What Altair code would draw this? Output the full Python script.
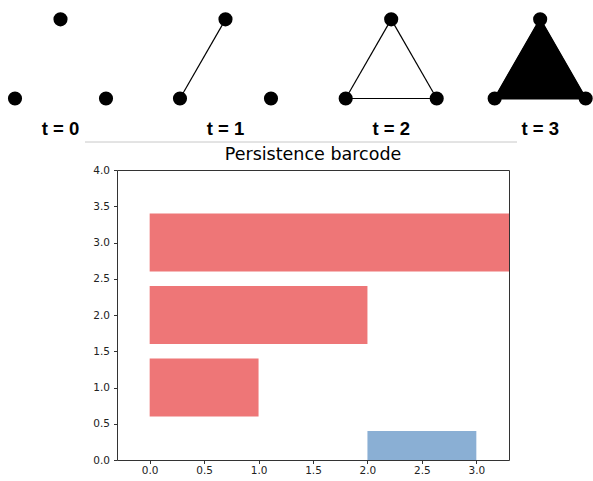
import math

import altair as alt
import pandas as pd

# --- filtration snapshots (triangle side length = 1 unit) --------------------
steps = [0, 1, 2, 3]
step_labels = ["t = 0", "t = 1", "t = 2", "t = 3"]
step_offsets = [0.0, 1.813, 3.634, 5.271]

vertex_x = [0.0, 1.0, 0.5]
vertex_y = [0.0, 0.0, 0.87]

# edges present at each step, as vertex index pairs
edge_step = [1, 2, 2, 2, 3, 3, 3]
edge_start = [0, 0, 1, 2, 0, 1, 2]
edge_end = [2, 1, 2, 0, 1, 2, 0]

# the 2-simplex (filled triangle) enters at t = 3
face_steps = [3]

# --- persistence barcode -------------------------------------------------------
bar_dim = ["H0", "H0", "H0", "H1"]
bar_row = [1, 2, 3, 0]
bar_birth = [0.0, 0.0, 0.0, 2.0]
bar_death = [1.0, 2.0, math.inf, 3.0]
bar_half_height = 0.4

x_domain = [-0.3, 3.3]
y_domain = [0.0, 4.0]
x_ticks = [0.0, 0.5, 1.0, 1.5, 2.0, 2.5, 3.0]
y_ticks = [0.0, 0.5, 1.0, 1.5, 2.0, 2.5, 3.0, 3.5, 4.0]

bar_colors = ["#ee7677", "#8aafd4"]

# --- tables -------------------------------------------------------------------
dots = pd.DataFrame(
    [
        {"step": s, "x": off + vx, "y": vy}
        for s, off in zip(steps, step_offsets)
        for vx, vy in zip(vertex_x, vertex_y)
    ]
)

edge_rows = []
for k, (s, a, b) in enumerate(zip(edge_step, edge_start, edge_end)):
    off = step_offsets[s]
    edge_rows.append({"edge": k, "order": 0, "x": off + vertex_x[a], "y": vertex_y[a]})
    edge_rows.append({"edge": k, "order": 1, "x": off + vertex_x[b], "y": vertex_y[b]})
edges = pd.DataFrame(edge_rows)

faces = pd.DataFrame(
    [
        {"face": s, "x": step_offsets[s] + vx, "y": vy, "y0": 0.0}
        for s in face_steps
        for vx, vy in sorted(zip(vertex_x, vertex_y))
    ]
)

labels = pd.DataFrame(
    {"x": [off + 0.5 for off in step_offsets], "y": [-0.33] * 4, "text": step_labels}
)

bars = pd.DataFrame(
    {
        "dim": bar_dim,
        "birth": bar_birth,
        "death": [min(d, x_domain[1]) for d in bar_death],
        "lo": [r - bar_half_height for r in bar_row],
        "hi": [r + bar_half_height for r in bar_row],
    }
)

# --- top strip: the growing simplicial complex ---------------------------------
sx = alt.Scale(domain=[-15 / 91, 578 / 91], nice=False, zero=False)
sy = alt.Scale(domain=[-46.5 / 91, 98.5 / 91], nice=False, zero=False)
X = alt.X("x:Q", scale=sx, axis=None)
Y = alt.Y("y:Q", scale=sy, axis=None)

face_layer = alt.Chart(faces).mark_area(
    color="black", stroke="black", strokeWidth=2, strokeJoin="round", clip=False
).encode(x=X, y=Y, y2="y0:Q", detail="face:N")

edge_layer = alt.Chart(edges).mark_line(color="black", strokeWidth=1.2).encode(
    x=X, y=Y, detail="edge:N", order="order:Q"
)

dot_layer = alt.Chart(dots).mark_circle(size=200, color="black", opacity=1).encode(
    x=X, y=Y
)

label_layer = alt.Chart(labels).mark_text(
    font="Liberation Sans", fontWeight="bold", fontSize=18.5, baseline="middle", color="black"
).encode(x=X, y=Y, text="text:N")

separator = alt.Chart(pd.DataFrame({"k": [0]})).mark_rule(
    color="#c8c8c8", strokeWidth=1
).encode(x=alt.value(85), x2=alt.value(517), y=alt.value(142))

top = alt.layer(face_layer, edge_layer, dot_layer, label_layer, separator).properties(
    width=593, height=145
)

# --- bottom: persistence barcode ---------------------------------------------------
barcode = alt.Chart(bars).mark_rect(clip=True).encode(
    x=alt.X(
        "birth:Q",
        scale=alt.Scale(domain=x_domain, nice=False, zero=False),
        axis=alt.Axis(values=x_ticks, format=".1f", title=None, grid=False),
    ),
    x2="death:Q",
    y=alt.Y(
        "lo:Q",
        scale=alt.Scale(domain=y_domain, nice=False, zero=False),
        axis=alt.Axis(values=y_ticks, format=".1f", title=None, grid=False, labelPadding=4),
    ),
    y2="hi:Q",
    color=alt.Color(
        "dim:N", scale=alt.Scale(domain=["H0", "H1"], range=bar_colors), legend=None
    ),
).properties(
    width=392,
    height=290,
    title=alt.TitleParams(
        "Persistence barcode",
        font="DejaVu Sans",
        fontSize=17.5,
        fontWeight="normal",
        color="black",
        offset=2,
    ),
    view=alt.ViewBackground(stroke="#333333", strokeWidth=1, strokeOpacity=1),
)

spacer = alt.Chart(pd.DataFrame({"s": [0]})).mark_point(opacity=0).encode(
    x=alt.X("s:Q", axis=None), y=alt.Y("s:Q", axis=None)
).properties(width=92, height=10)

bottom = alt.hconcat(spacer, barcode, spacing=0)

chart = (
    alt.vconcat(top, bottom, spacing=0)
    .properties(padding=0, background="white")
    .configure_view(strokeOpacity=0)
    .configure_axis(
        labelFont="DejaVu Sans",
        labelFontSize=10.5,
        labelColor="#222222",
        tickColor="#333333",
        tickSize=3.5,
        domain=False,
    )
)

chart.save("out.html", embed_options={"renderer": "svg", "actions": False})
